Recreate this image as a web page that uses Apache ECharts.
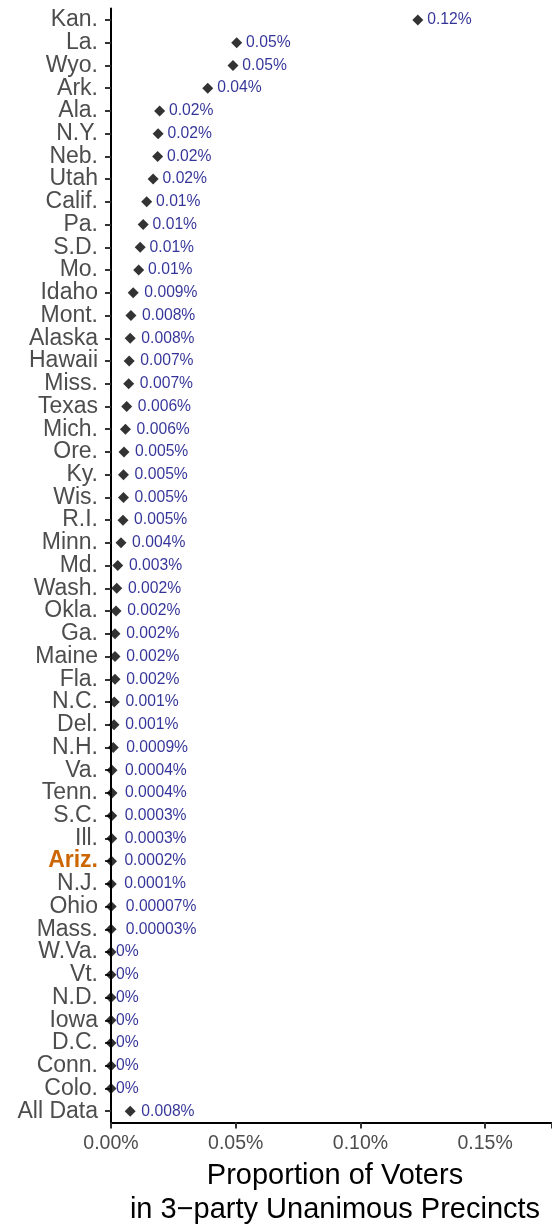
<!DOCTYPE html>
<html>
<head>
<meta charset="utf-8">
<script src="https://cdn.jsdelivr.net/npm/echarts@6/dist/echarts.min.js"></script>
<style>
html,body{margin:0;padding:0;background:#fff;}
#chart{width:552px;height:1226px;}
</style>
</head>
<body>
<div id="chart"></div>
<script>
const states = ["Kan.","La.","Wyo.","Ark.","Ala.","N.Y.","Neb.","Utah","Calif.","Pa.","S.D.","Mo.","Idaho","Mont.","Alaska","Hawaii","Miss.","Texas","Mich.","Ore.","Ky.","Wis.","R.I.","Minn.","Md.","Wash.","Okla.","Ga.","Maine","Fla.","N.C.","Del.","N.H.","Va.","Tenn.","S.C.","Ill.","Ariz.","N.J.","Ohio","Mass.","W.Va.","Vt.","N.D.","Iowa","D.C.","Conn.","Colo.","All Data"];
// proportion of voters, in percent
const proportions = [0.123,0.0504,0.0489,0.0388,0.0195,0.0189,0.0187,0.0169,0.0143,0.0129,0.0117,0.0111,0.0089,0.0080,0.0077,0.0073,0.0071,0.0063,0.0058,0.0052,0.0050,0.0050,0.0048,0.0040,0.0027,0.0023,0.0020,0.0016,0.0016,0.0016,0.0013,0.0012,0.0009,0.0004,0.0004,0.0003,0.0003,0.0002,0.0001,0.00007,0.00003,0,0,0,0,0,0,0,0.0077];
const valueLabels = ["0.12%","0.05%","0.05%","0.04%","0.02%","0.02%","0.02%","0.02%","0.01%","0.01%","0.01%","0.01%","0.009%","0.008%","0.008%","0.007%","0.007%","0.006%","0.006%","0.005%","0.005%","0.005%","0.005%","0.004%","0.003%","0.002%","0.002%","0.002%","0.002%","0.002%","0.001%","0.001%","0.0009%","0.0004%","0.0004%","0.0003%","0.0003%","0.0002%","0.0001%","0.00007%","0.00003%","0%","0%","0%","0%","0%","0%","0%","0.008%"];
const xTicks = [0, 0.05, 0.10, 0.15];
const highlight = "Ariz.";

const FONT = '"Liberation Sans", Arial, Helvetica, sans-serif';
const labelSize = 15.7;
const symSize = 11;
const ctx = document.createElement('canvas').getContext('2d');
ctx.font = labelSize + 'px ' + FONT;

const data = proportions.map((v, i) => {
  const w = ctx.measureText(valueLabels[i]).width;
  return {
    value: [v, states[i]],
    label: { distance: 0.2 * w - symSize / 2 + 0.5 }
  };
});

const chart = echarts.init(document.getElementById('chart'), null, {renderer: 'canvas'});
chart.setOption({
  animation: false,
  backgroundColor: '#ffffff',
  textStyle: { fontFamily: FONT },
  grid: { left: 111, right: 0, top: 8.6, height: 1114, containLabel: false, outerBoundsMode: 'none' },
  xAxis: {
    type: 'value',
    min: 0,
    max: 0.1768,
    interval: 0.05,
    splitLine: { show: false },
    axisLine: { show: true, lineStyle: { color: '#000', width: 2 } },
    axisTick: { show: true, length: 6, lineStyle: { color: '#333', width: 2 } },
    axisLabel: {
      color: '#4d4d4d', fontSize: 19.5, fontFamily: FONT, margin: 11,
      formatter: v => xTicks.some(t => Math.abs(t - v) < 1e-9) ? v.toFixed(2) + '%' : ''
    },
    name: 'Proportion of Voters\nin 3\u2212party Unanimous Precincts',
    nameLocation: 'middle',
    nameGap: 34,
    nameTextStyle: { color: '#000', fontSize: 29, lineHeight: 34, fontFamily: FONT, padding: [0, 0, 0, 7] }
  },
  yAxis: {
    type: 'category',
    data: states,
    inverse: true,
    boundaryGap: true,
    axisLine: { show: true, lineStyle: { color: '#000', width: 2 } },
    axisTick: { show: true, alignWithLabel: true, length: 6, lineStyle: { color: '#333', width: 2 } },
    splitLine: { show: false },
    axisLabel: {
      interval: 0,
      margin: 13,
      color: '#4d4d4d',
      fontSize: 23,
      fontFamily: FONT,
      formatter: v => v === highlight ? '{hl|' + v + '}' : v,
      rich: {
        hl: { color: '#CD6600', fontWeight: 'bold', fontSize: 23, fontFamily: FONT }
      }
    }
  },
  series: [{
    type: 'scatter',
    symbol: 'diamond',
    symbolSize: symSize,
    itemStyle: { color: '#000' },
    label: {
      show: true,
      position: 'right',
      color: '#000080',
      fontSize: labelSize,
      fontFamily: FONT,
      formatter: p => valueLabels[p.dataIndex]
    },
    data: data
  }]
});
</script>
</body>
</html>
